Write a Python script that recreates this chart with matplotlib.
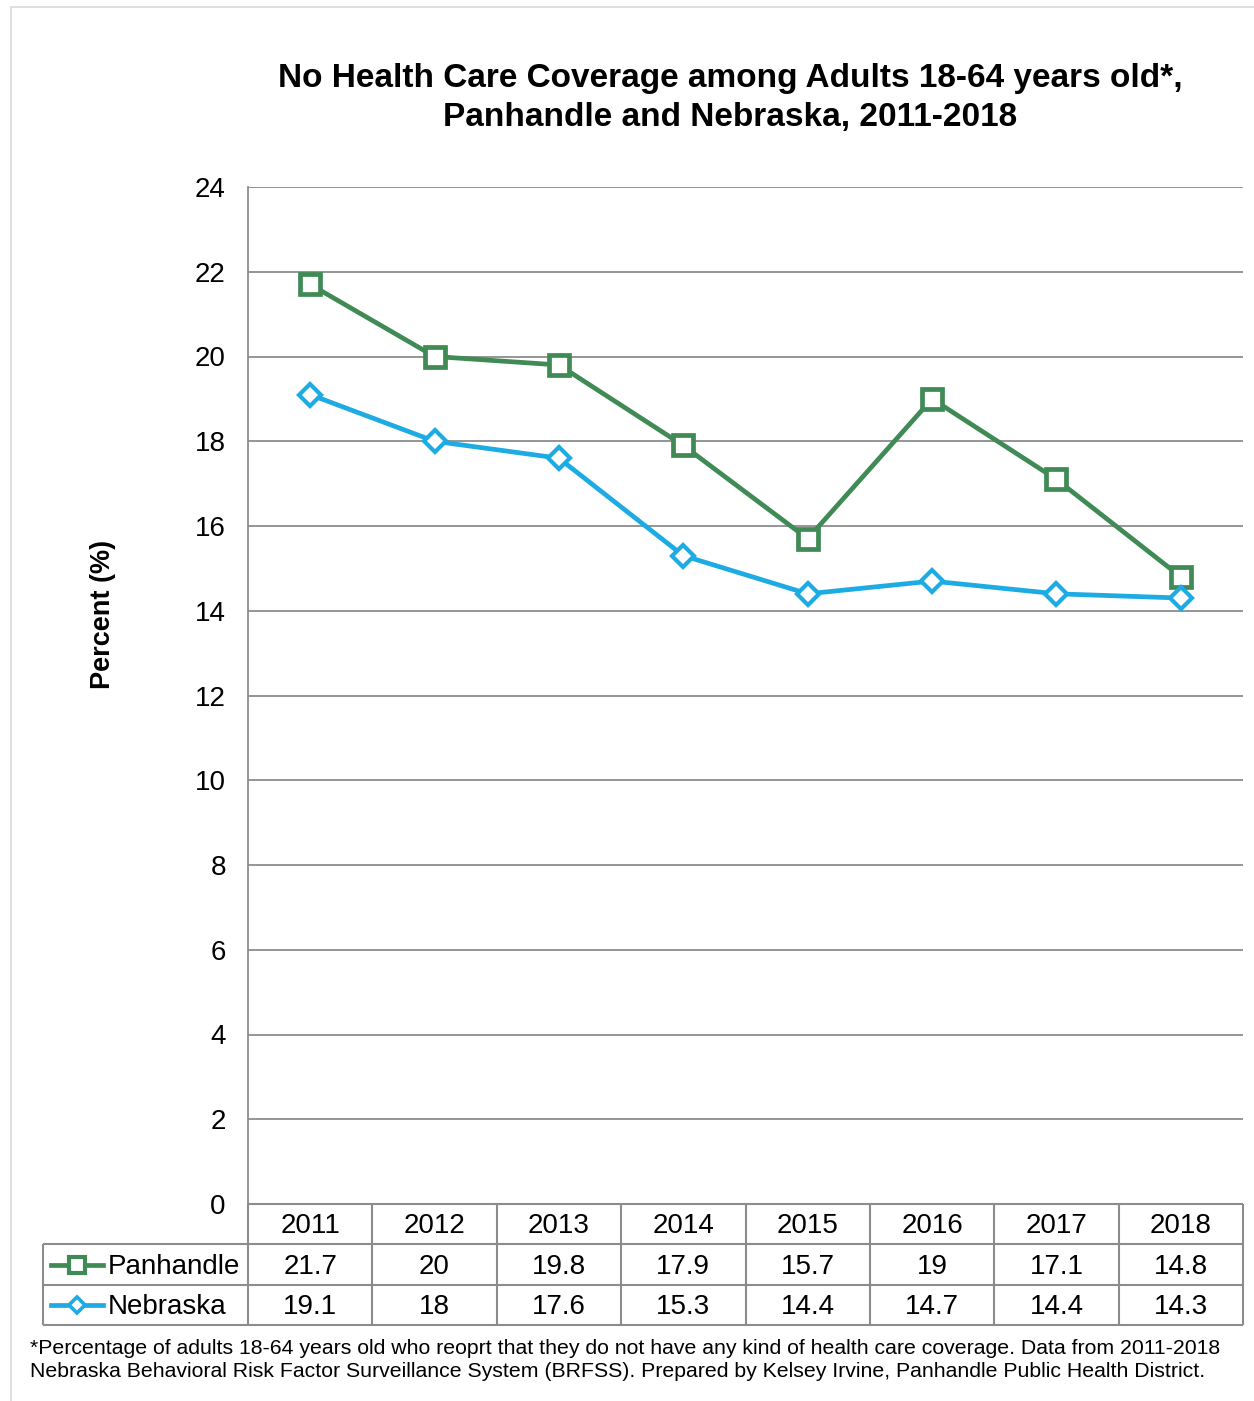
import matplotlib
matplotlib.use('Agg')
import matplotlib.pyplot as plt
from matplotlib.lines import Line2D
from matplotlib.patches import Rectangle

plt.rcParams['font.family'] = ['Liberation Sans', 'DejaVu Sans']

# datos
anios = ['2011', '2012', '2013', '2014', '2015', '2016', '2017', '2018']
panhandle = [21.7, 20, 19.8, 17.9, 15.7, 19, 17.1, 14.8]
nebraska = [19.1, 18, 17.6, 15.3, 14.4, 14.7, 14.4, 14.3]
series = ['Panhandle', 'Nebraska']
ticks_y = [0, 2, 4, 6, 8, 10, 12, 14, 16, 18, 20, 22, 24]

verde = '#3f8a55'
azul = '#1dabe3'
gris = '#8c8c8c'

W, H = 1254, 1401
fig = plt.figure(figsize=(W / 100, H / 100), dpi=100)

def px(x0, y0, x1, y1):
    # caja en pixeles -> coordenadas de figura
    return [x0 / W, 1 - y1 / H, (x1 - x0) / W, (y1 - y0) / H]

# borde claro del grafico
fig.patches.append(Rectangle((11 / W, -0.01), 1.0, 1 - 7 / H + 0.01, transform=fig.transFigure,
                             fill=False, edgecolor='#d9d9d9', linewidth=1.2))

ax = fig.add_axes(px(248, 187, 1243, 1204))
x = list(range(len(anios)))
ax.plot(x, panhandle, color=verde, linewidth=3.4, marker='s', markersize=15,
        markerfacecolor='white', markeredgecolor=verde, markeredgewidth=3.4, zorder=3)
ax.plot(x, nebraska, color=azul, linewidth=3.4, marker='D', markersize=11,
        markerfacecolor='white', markeredgecolor=azul, markeredgewidth=3.0, zorder=3)

ax.set_xlim(-0.5, len(anios) - 0.5)
ax.set_ylim(0, 24)
ax.set_yticks(ticks_y)
ax.set_yticklabels([str(t) for t in ticks_y], fontsize=20)
ax.set_xticks([])
ax.tick_params(axis='y', length=0, pad=16)
ax.grid(axis='y', color=gris, linewidth=1.3)
ax.set_axisbelow(True)
for lado in ['top', 'right', 'bottom']:
    ax.spines[lado].set_visible(False)
ax.spines['left'].set_color(gris)
ax.spines['left'].set_linewidth(1.3)
ax.set_ylabel('Percent (%)', fontsize=19.5, fontweight='bold')
ax.yaxis.set_label_coords(-0.133, 0.58)

fig.text(730 / W, 1 - 98 / H,
         'No Health Care Coverage among Adults 18-64 years old*,\nPanhandle and Nebraska, 2011-2018',
         ha='center', va='center', fontsize=24, fontweight='bold', linespacing=1.35)

# tabla de datos
tx = fig.add_axes(px(248, 1204, 1243, 1325), sharex=ax)
tx.set_ylim(3, 0)
tx.axis('off')
izq = -0.5 - 205 / 124.4
kw = dict(color=gris, linewidth=1.5, clip_on=False)
tx.hlines([0], -0.5, len(anios) - 0.5, **kw)
tx.hlines([1, 2, 3], izq, len(anios) - 0.5, **kw)
tx.vlines([i - 0.5 for i in range(len(anios) + 1)], 0, 3, **kw)
tx.vlines([izq], 1, 3, **kw)

for i, a in enumerate(anios):
    tx.text(i, 0.55, a, ha='center', va='center', fontsize=20)
    tx.text(i, 1.55, f'{panhandle[i]:g}', ha='center', va='center', fontsize=20)
    tx.text(i, 2.55, f'{nebraska[i]:g}', ha='center', va='center', fontsize=20)

estilos = [(verde, 's', 11, 3.0), (azul, 'D', 8.5, 2.6)]
for r, (nombre, (c, m, ms, mew)) in enumerate(zip(series, estilos)):
    x0 = izq + 8 / 124.4
    x1 = izq + 60 / 124.4
    tx.add_line(Line2D([x0, x1], [r + 1.5, r + 1.5], color=c, linewidth=3.4, clip_on=False))
    tx.add_line(Line2D([(x0 + x1) / 2], [r + 1.5], marker=m, markersize=ms, markerfacecolor='white',
                       markeredgecolor=c, markeredgewidth=mew, clip_on=False))
    tx.text(izq + 65 / 124.4, r + 1.55, nombre, ha='left', va='center', fontsize=20)

fig.text(30 / W, 1 - 1360 / H,
         '*Percentage of adults 18-64 years old who reoprt that they do not have any kind of health care coverage. Data from 2011-2018\n'
         'Nebraska Behavioral Risk Factor Surveillance System (BRFSS). Prepared by Kelsey Irvine, Panhandle Public Health District.',
         ha='left', va='center', fontsize=15.3, linespacing=1.3)

fig.savefig('out.png', dpi=100)
